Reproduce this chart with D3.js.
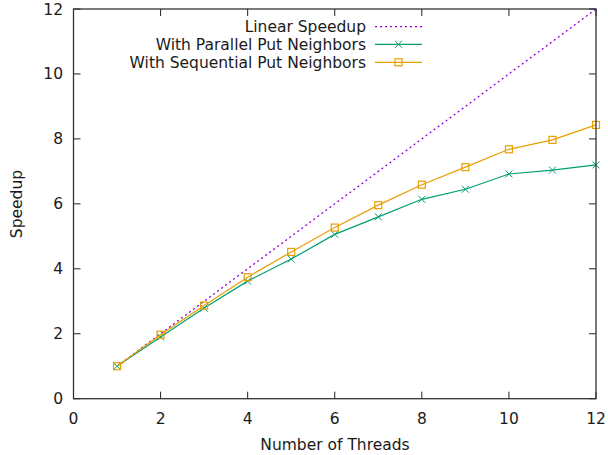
<!DOCTYPE html>
<html>
<head>
<meta charset="utf-8">
<script src="https://cdn.jsdelivr.net/npm/d3@7"></script>
<style>
  body { margin: 0; background: #fff; }
  text { font-family: "DejaVu Sans", sans-serif; fill: #1a1a1a; }
</style>
</head>
<body>
<svg id="chart" width="608" height="455"></svg>
<script>
// values
var threads = [1, 2, 3, 4, 5, 6, 7, 8, 9, 10, 11, 12];
var linearSpeedup = [1, 2, 3, 4, 5, 6, 7, 8, 9, 10, 11, 12];
var parallelPut = [1, 1.9, 2.79, 3.62, 4.3, 5.06, 5.6, 6.14, 6.45, 6.92, 7.04, 7.2];
var sequentialPut = [1, 1.97, 2.87, 3.74, 4.52, 5.27, 5.96, 6.59, 7.13, 7.68, 7.97, 8.43];
var xTicks = [0, 2, 4, 6, 8, 10, 12];
var yTicks = [0, 2, 4, 6, 8, 10, 12];

var series = [
  { name: 'Linear Speedup', values: linearSpeedup, color: '#9400d3', dash: '2,3', marker: null },
  { name: 'With Parallel Put Neighbors', values: parallelPut, color: '#009e73', dash: null, marker: 'cross' },
  { name: 'With Sequential Put Neighbors', values: sequentialPut, color: '#e69f00', dash: null, marker: 'square' }
];

var svg = d3.select('#chart');
// plot box (window.top is read-only, so no "top" here)
var plotL = 73.5, plotR = 596, plotT = 9, plotB = 398.7;
var fontSize = 15.5;

var x = d3.scaleLinear().domain([0, 12]).range([plotL, plotR]);
var y = d3.scaleLinear().domain([0, 12]).range([plotB, plotT]);

// ticks, all sides, pointing in
var tickLen = 7;
var axisG = svg.append('g').attr('stroke', '#222').attr('stroke-width', 1);
xTicks.forEach(function(t) {
  axisG.append('line').attr('x1', x(t)).attr('x2', x(t)).attr('y1', plotB).attr('y2', plotB - tickLen);
  axisG.append('line').attr('x1', x(t)).attr('x2', x(t)).attr('y1', plotT).attr('y2', plotT + tickLen);
});
yTicks.forEach(function(t) {
  axisG.append('line').attr('x1', plotL).attr('x2', plotL + tickLen).attr('y1', y(t)).attr('y2', y(t));
  axisG.append('line').attr('x1', plotR).attr('x2', plotR - tickLen).attr('y1', y(t)).attr('y2', y(t));
});

svg.selectAll('.xlab').data(xTicks).enter().append('text')
  .attr('x', function(d) { return x(d); })
  .attr('y', 424)
  .attr('text-anchor', 'middle')
  .attr('font-size', fontSize)
  .text(function(d) { return d; });

svg.selectAll('.ylab').data(yTicks).enter().append('text')
  .attr('x', 63)
  .attr('y', function(d) { return y(d) + 5.5; })
  .attr('text-anchor', 'end')
  .attr('font-size', fontSize)
  .text(function(d) { return d; });

svg.append('text')
  .attr('x', 335).attr('y', 450)
  .attr('text-anchor', 'middle')
  .attr('font-size', fontSize)
  .text('Number of Threads');

svg.append('text')
  .attr('transform', 'translate(22,204) rotate(-90)')
  .attr('text-anchor', 'middle')
  .attr('font-size', fontSize)
  .text('Speedup');

var line = d3.line()
  .x(function(d, i) { return x(threads[i]); })
  .y(function(d) { return y(d); });

function drawMarker(g, kind, cx, cy, color) {
  if (kind === 'cross') {
    var s = 3.5;
    g.append('path')
      .attr('d', 'M' + (cx - s) + ',' + (cy - s) + 'L' + (cx + s) + ',' + (cy + s) +
                 'M' + (cx - s) + ',' + (cy + s) + 'L' + (cx + s) + ',' + (cy - s))
      .attr('stroke', color).attr('stroke-width', 1).attr('fill', 'none');
  } else if (kind === 'square') {
    var h = 3.5;
    g.append('rect')
      .attr('x', cx - h).attr('y', cy - h).attr('width', 2 * h).attr('height', 2 * h)
      .attr('stroke', color).attr('stroke-width', 1.2).attr('fill', 'none');
  }
}

var plot = svg.append('g');
series.forEach(function(s) {
  plot.append('path')
    .datum(s.values)
    .attr('d', line)
    .attr('fill', 'none')
    .attr('stroke', s.color)
    .attr('stroke-width', s.dash ? 1.3 : 1.2)
    .attr('stroke-dasharray', s.dash);
  if (s.marker) {
    s.values.forEach(function(v, i) {
      drawMarker(plot, s.marker, x(threads[i]), y(v), s.color);
    });
  }
});

// border
svg.append('rect')
  .attr('x', plotL).attr('y', plotT)
  .attr('width', plotR - plotL).attr('height', plotB - plotT)
  .attr('fill', 'none').attr('stroke', '#333').attr('stroke-width', 1.3);

// legend
var legendRows = [26.7, 44.3, 62.3];
var legend = svg.append('g');
series.forEach(function(s, i) {
  var ly = legendRows[i];
  legend.append('text')
    .attr('x', 366).attr('y', ly + 5.5)
    .attr('text-anchor', 'end')
    .attr('font-size', fontSize)
    .text(s.name);
  legend.append('line')
    .attr('x1', 375).attr('x2', 422).attr('y1', ly).attr('y2', ly)
    .attr('stroke', s.color)
    .attr('stroke-width', s.dash ? 1.3 : 1.2)
    .attr('stroke-dasharray', s.dash);
  if (s.marker) drawMarker(legend, s.marker, 398.5, ly, s.color);
});
</script>
</body>
</html>
